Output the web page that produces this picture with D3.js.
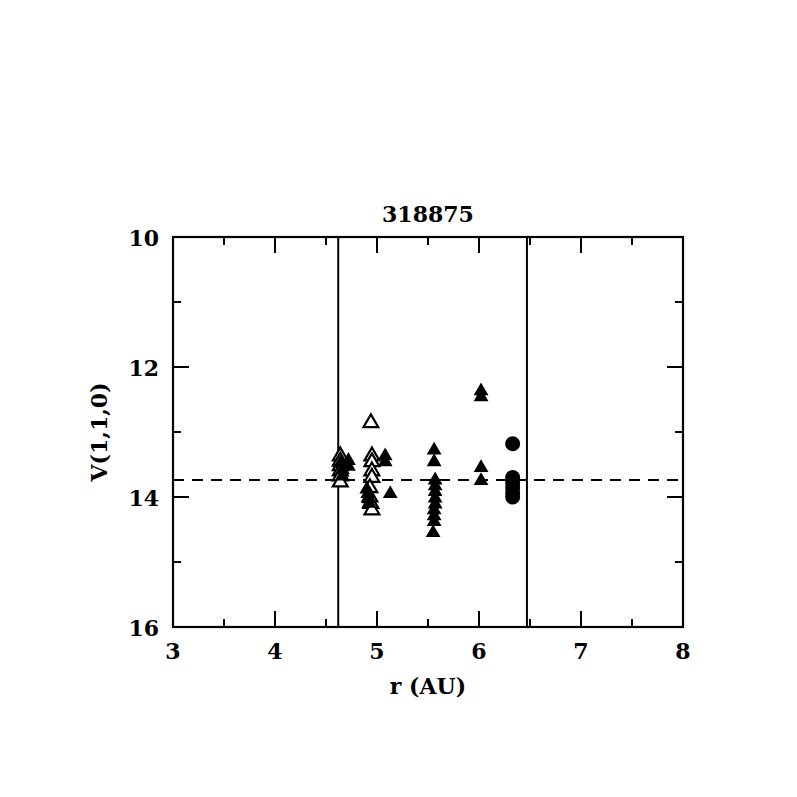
<!DOCTYPE html>
<html>
<head>
<meta charset="utf-8">
<script src="https://cdn.jsdelivr.net/npm/d3@7"></script>
<style>
  body { margin:0; background:#fff; }
  text { font-family: "DejaVu Serif", serif; font-weight: bold; fill:#000; }
</style>
</head>
<body>
<div id="chart"></div>
<script>
// data
const title = '318875';
const xTicks = [3, 4, 5, 6, 7, 8];
const yTicks = [10, 12, 14, 16];
const vLines = [4.62, 6.47];
const meanV = 13.74;

// open triangles
const openTri = [
  [4.64, 13.37], [4.64, 13.45], [4.64, 13.52], [4.64, 13.60], [4.64, 13.68], [4.64, 13.77],
  [4.94, 12.86],
  [4.95, 13.37], [4.95, 13.46], [4.95, 13.60], [4.95, 13.70], [4.93, 13.86],
  [4.93, 14.00], [4.94, 14.10], [4.95, 14.20]
];
// filled triangles
const fillTri = [
  [4.65, 13.48], [4.66, 13.58], [4.66, 13.68],
  [4.72, 13.44], [4.72, 13.53],
  [4.90, 13.88], [4.91, 13.95], [4.92, 14.03], [4.92, 14.10],
  [5.08, 13.37], [5.08, 13.46],
  [5.13, 13.95],
  [5.56, 13.28], [5.56, 13.46], [5.57, 13.74], [5.57, 13.83], [5.57, 13.92],
  [5.57, 14.02], [5.57, 14.11], [5.56, 14.20], [5.56, 14.29], [5.56, 14.38], [5.55, 14.55],
  [6.02, 12.37], [6.02, 12.46], [6.02, 13.55], [6.02, 13.75]
];
// filled circles
const circles = [
  [6.33, 13.18], [6.33, 13.70], [6.33, 13.78], [6.33, 13.86], [6.33, 13.94], [6.33, 14.00]
];

const W = 797, H = 797;
const m = { left: 173, right: 683, top: 237, bottom: 627 };

const svg = d3.select('#chart').append('svg').attr('width', W).attr('height', H);

const x = d3.scaleLinear().domain([3, 8]).range([m.left, m.right]);
const y = d3.scaleLinear().domain([10, 16]).range([m.top, m.bottom]);

const g = svg.append('g');

// frame
g.append('rect')
  .attr('x', m.left).attr('y', m.top)
  .attr('width', m.right - m.left).attr('height', m.bottom - m.top)
  .attr('fill', 'none').attr('stroke', '#000').attr('stroke-width', 2.2);

// ticks on all four sides
const xMinor = d3.range(3.5, 8, 1);
const yMinor = d3.range(11, 16, 2);
const tick = (x1, y1, x2, y2) => g.append('line')
  .attr('x1', x1).attr('y1', y1).attr('x2', x2).attr('y2', y2)
  .attr('stroke', '#000').attr('stroke-width', 2);

xTicks.slice(1, -1).forEach(v => { tick(x(v), m.bottom, x(v), m.bottom - 16); tick(x(v), m.top, x(v), m.top + 16); });
xMinor.forEach(v => { tick(x(v), m.bottom, x(v), m.bottom - 8); tick(x(v), m.top, x(v), m.top + 8); });
yTicks.slice(1, -1).forEach(v => { tick(m.left, y(v), m.left + 16, y(v)); tick(m.right, y(v), m.right - 16, y(v)); });
yMinor.forEach(v => { tick(m.left, y(v), m.left + 8, y(v)); tick(m.right, y(v), m.right - 8, y(v)); });

// tick labels
g.selectAll('.xl').data(xTicks).enter().append('text')
  .attr('x', d => x(d)).attr('y', m.bottom + 32)
  .attr('text-anchor', 'middle').attr('font-size', 22)
  .text(d => d);
g.selectAll('.yl').data(yTicks).enter().append('text')
  .attr('x', m.left - 14).attr('y', d => y(d) + 9)
  .attr('text-anchor', 'end').attr('font-size', 22)
  .text(d => d);

// axis titles
g.append('text').attr('x', (m.left + m.right) / 2).attr('y', m.bottom + 67)
  .attr('text-anchor', 'middle').attr('font-size', 22).text('r (AU)');
g.append('text')
  .attr('transform', `translate(${m.left - 66},${(m.top + m.bottom) / 2}) rotate(-90)`)
  .attr('text-anchor', 'middle').attr('font-size', 22).text('V(1,1,0)');
g.append('text').attr('x', (m.left + m.right) / 2).attr('y', m.top - 15)
  .attr('text-anchor', 'middle').attr('font-size', 22).text(title);

// reference lines
vLines.forEach(v => g.append('line')
  .attr('x1', x(v)).attr('x2', x(v)).attr('y1', m.top).attr('y2', m.bottom)
  .attr('stroke', '#000').attr('stroke-width', 2));
g.append('line')
  .attr('x1', m.left).attr('x2', m.right).attr('y1', y(meanV)).attr('y2', y(meanV))
  .attr('stroke', '#000').attr('stroke-width', 2).attr('stroke-dasharray', '11,8');

// markers
const tri = d3.symbol().type(d3.symbolTriangle).size(95);
g.selectAll('.ot').data(openTri).enter().append('path')
  .attr('d', tri).attr('transform', d => `translate(${x(d[0])},${y(d[1])})`)
  .attr('fill', '#fff').attr('stroke', '#000').attr('stroke-width', 2.2);
g.selectAll('.ft').data(fillTri).enter().append('path')
  .attr('d', tri).attr('transform', d => `translate(${x(d[0])},${y(d[1])})`)
  .attr('fill', '#000');
g.selectAll('.c').data(circles).enter().append('circle')
  .attr('cx', d => x(d[0])).attr('cy', d => y(d[1])).attr('r', 7.5)
  .attr('fill', '#000');
</script>
</body>
</html>
